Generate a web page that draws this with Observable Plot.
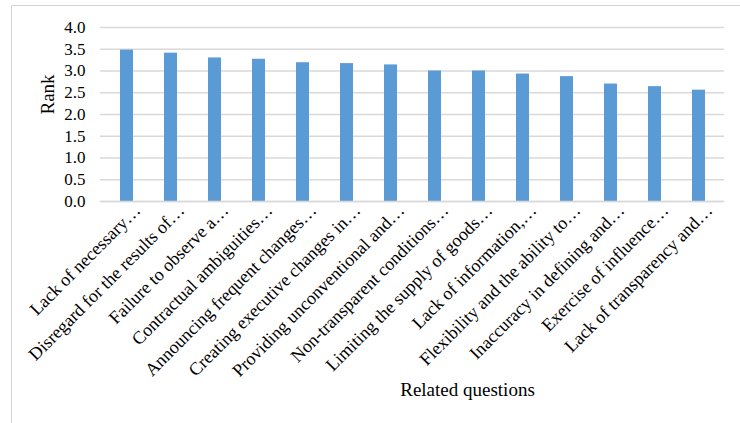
<!DOCTYPE html>
<html>
<head>
<meta charset="utf-8">
<script src="https://cdn.jsdelivr.net/npm/d3@7"></script>
<script src="https://cdn.jsdelivr.net/npm/@observablehq/plot@0.6"></script>
<style>
  html, body { margin: 0; padding: 0; background: #fff; }
  #wrap { position: relative; width: 740px; height: 423px; overflow: hidden; }
  #frame { position: absolute; left: 11px; top: 5px; width: 800px; height: 500px;
           border-left: 1px solid #d4d4d4; border-top: 1px solid #d4d4d4; pointer-events: none; }
</style>
</head>
<body>
<div id="wrap"><div id="frame"></div></div>
<script>
const categories = [
  "Lack of necessary…",
  "Disregard for the results of…",
  "Failure to observe a…",
  "Contractual ambiguities…",
  "Announcing frequent changes…",
  "Creating executive changes in…",
  "Providing unconventional and…",
  "Non-transparent conditions…",
  "Limiting the supply of goods…",
  "Lack of information,…",
  "Flexibility and the ability to…",
  "Inaccuracy in defining and…",
  "Exercise of influence…",
  "Lack of transparency and…"
];
const values = [3.48, 3.41, 3.30, 3.27, 3.19, 3.17, 3.14, 3.00, 3.00, 2.93, 2.87, 2.70, 2.64, 2.56];
const yTicks = [0, 0.5, 1.0, 1.5, 2.0, 2.5, 3.0, 3.5, 4.0];
const yTitle = "Rank";
const xTitle = "Related questions";

const data = categories.map((c, i) => ({category: c, value: values[i]}));
const serif = "'Liberation Serif', 'Times New Roman', serif";

const chart = Plot.plot({
  width: 740,
  height: 423,
  marginLeft: 100,
  marginRight: 16,
  marginTop: 27,
  marginBottom: 222,
  style: {fontFamily: serif, fontSize: "17px", color: "#000", background: "transparent"},
  x: {domain: categories, paddingInner: 0.71, paddingOuter: 0.355, label: null},
  y: {domain: [0, 4], label: null},
  marks: [
    Plot.gridY(yTicks, {stroke: "#d9d9d9", strokeOpacity: 1, strokeWidth: 1.5}),
    Plot.barY(data, {x: "category", y: "value", fill: "#5b9bd5"}),
    Plot.ruleY([0], {stroke: "#d9d9d9", strokeWidth: 1.5}),
    Plot.axisY({ticks: yTicks, tickFormat: d3.format(".1f"), tickSize: 0, tickPadding: 15, label: null, fontSize: 17, fontFamily: serif}),
    Plot.axisX({tickSize: 0, tickRotate: -45, textAnchor: "end", lineAnchor: "middle", tickPadding: 0, dx: 10.5, dy: 6, label: null, fontSize: 18, fontFamily: serif}),
    Plot.text([yTitle], {frameAnchor: "left", dx: -53, rotate: -90, fontSize: 19, fontFamily: serif}),
    Plot.text([xTitle], {frameAnchor: "bottom", dx: 55, dy: 194, lineAnchor: "bottom", fontSize: 19, fontFamily: serif})
  ]
});
document.getElementById("wrap").appendChild(chart);
chart.style.position = "absolute";
chart.style.left = "0";
chart.style.top = "0";
</script>
</body>
</html>
